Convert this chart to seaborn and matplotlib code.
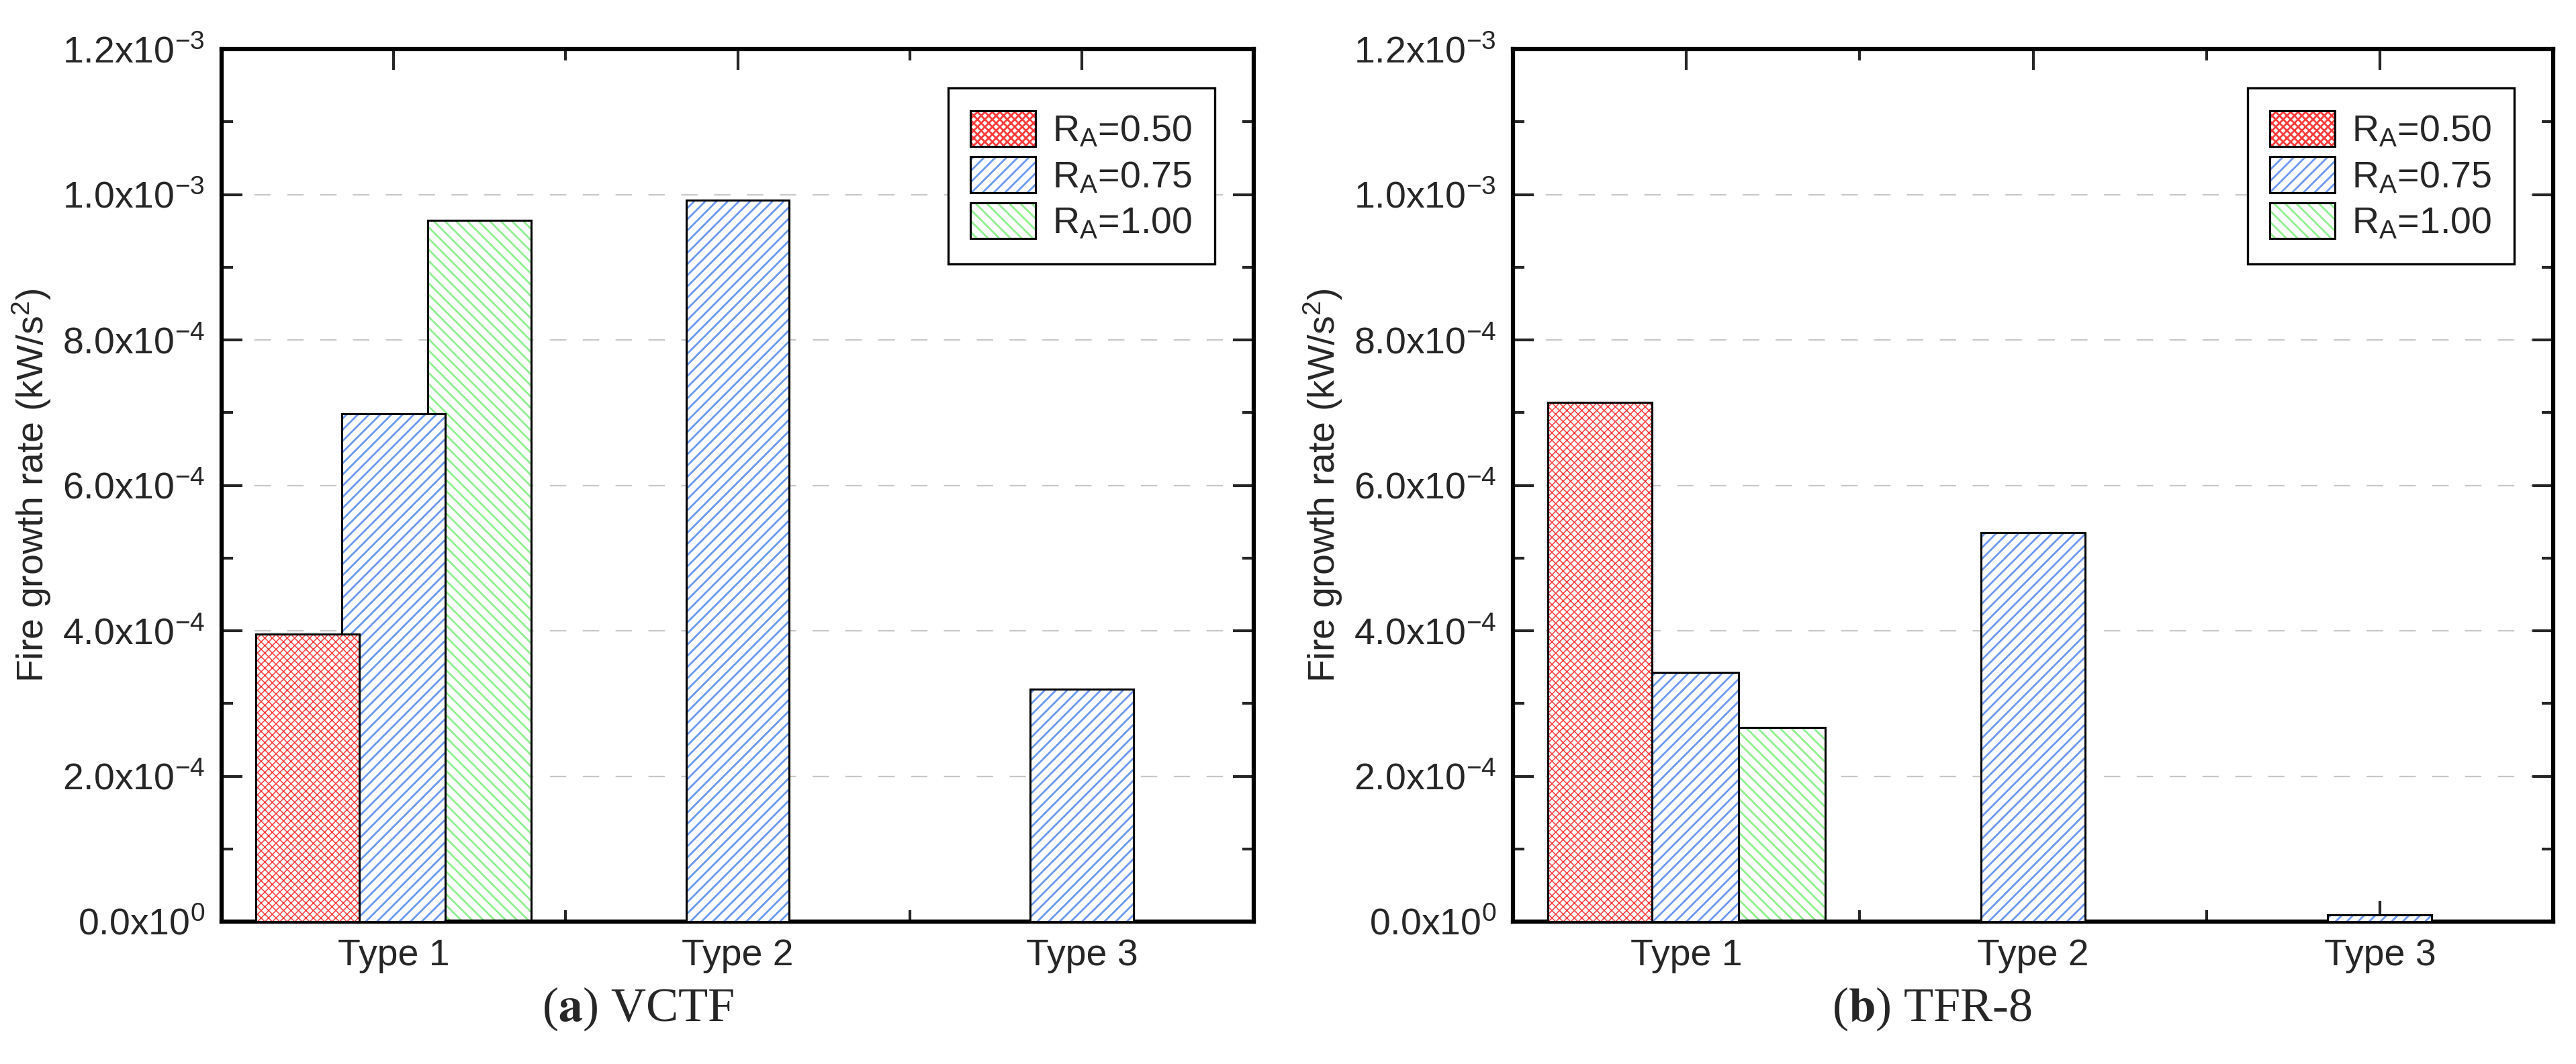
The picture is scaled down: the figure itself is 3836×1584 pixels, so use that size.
import numpy as np
import pandas as pd
import matplotlib
matplotlib.use("Agg")
import matplotlib.pyplot as plt
import seaborn as sns
from matplotlib.patches import Patch
from matplotlib.legend_handler import HandlerTuple
from matplotlib.ticker import FixedLocator

# ──────────────────────────────────────────────────────────────────────────────
# Data
# ──────────────────────────────────────────────────────────────────────────────
categories = ["Type 1", "Type 2", "Type 3"]
ratio_labels = ["R$_{\\mathrm{A}}$=0.50", "R$_{\\mathrm{A}}$=0.75", "R$_{\\mathrm{A}}$=1.00"]

vctf_050 = [3.95e-4, np.nan, np.nan]
vctf_075 = [6.98e-4, 9.92e-4, 3.20e-4]
vctf_100 = [9.64e-4, np.nan, np.nan]

tfr8_050 = [7.14e-4, np.nan, np.nan]
tfr8_075 = [3.43e-4, 5.35e-4, 0.09e-4]
tfr8_100 = [2.67e-4, np.nan, np.nan]

ytick_values = [0.0, 2e-4, 4e-4, 6e-4, 8e-4, 1.0e-3, 1.2e-3]
ytick_labels = ["0.0x10$^{0}$", "2.0x10$^{-4}$", "4.0x10$^{-4}$", "6.0x10$^{-4}$",
                "8.0x10$^{-4}$", "1.0x10$^{-3}$", "1.2x10$^{-3}$"]
ylabel = "Fire growth rate (kW/s$^{2}$)"
captions = ["($\\mathbf{a}$) VCTF", "($\\mathbf{b}$) TFR-8"]

# ──────────────────────────────────────────────────────────────────────────────
# Style
# ──────────────────────────────────────────────────────────────────────────────
sns.set_style("ticks")
plt.rcParams["font.family"] = ["Liberation Sans", "DejaVu Sans"]
plt.rcParams["mathtext.fontset"] = "custom"
plt.rcParams["mathtext.rm"] = "Liberation Sans"
plt.rcParams["mathtext.it"] = "Liberation Sans:italic"
plt.rcParams["mathtext.bf"] = "Liberation Sans:bold"
plt.rcParams["hatch.linewidth"] = 2.0

hatch_colors = ["#ff3a3a", "#6a98f0", "#8ef08e"]
hatches = ["xxx", "//", "\\\\"]
hatch_lws = [1.1, 2.0, 2.0]
zorders = [4, 3, 2]          # red over blue over green
bar_width = 0.30
FS = 40


def to_long(v050, v075, v100):
    df = pd.DataFrame({"Type": categories,
                       ratio_labels[0]: v050,
                       ratio_labels[1]: v075,
                       ratio_labels[2]: v100})
    df = df.melt(id_vars="Type", var_name="Ratio", value_name="Rate")
    return df.dropna()


def resize(bar, w):
    cx = bar.get_x() + bar.get_width() / 2
    bar.set_width(w)
    bar.set_x(cx - w / 2)


def style_hatch(p, col, h, lw):
    p.set_facecolor("white")
    p.set_edgecolor(col)
    p.set_linewidth(0)
    p.set_hatch(h)
    if hasattr(p, "set_hatch_linewidth"):
        p.set_hatch_linewidth(lw)


def draw_panel(ax, df):
    # hatched fill layer
    sns.barplot(data=df, x="Type", y="Rate", hue="Ratio", order=categories,
                hue_order=ratio_labels, dodge=True, width=0.75, errorbar=None,
                palette=["white"] * 3, saturation=1, legend=False, ax=ax)
    n = len(ax.containers)
    for cont, col, h, lw, z in zip(ax.containers, hatch_colors, hatches, hatch_lws, zorders):
        for bar in cont:
            resize(bar, bar_width)
            style_hatch(bar, col, h, lw)
            bar.set_zorder(z)
    # black outline layer
    sns.barplot(data=df, x="Type", y="Rate", hue="Ratio", order=categories,
                hue_order=ratio_labels, dodge=True, width=0.75, errorbar=None,
                fill=False, legend=False, ax=ax)
    for cont, z in zip(ax.containers[n:], zorders):
        for bar in cont:
            resize(bar, bar_width)
            bar.set_facecolor("none")
            bar.set_edgecolor("black")
            bar.set_linewidth(2.2)
            bar.set_zorder(z + 0.5)

    ax.set_xlim(-0.5, 2.5)
    ax.set_ylim(0, 1.2e-3)
    ax.yaxis.set_major_locator(FixedLocator(ytick_values))
    ax.set_yticklabels(ytick_labels)
    ax.yaxis.set_minor_locator(FixedLocator([1e-4, 3e-4, 5e-4, 7e-4, 9e-4, 1.1e-3]))
    ax.xaxis.set_minor_locator(FixedLocator([0.5, 1.5]))
    ax.set_xlabel("")
    ax.set_ylabel(ylabel, fontsize=FS, labelpad=10)

    ax.tick_params(which="major", direction="in", length=22, width=3,
                   top=True, right=True, labelsize=FS, pad=18)
    ax.tick_params(which="minor", direction="in", length=12, width=3,
                   top=True, right=True)
    ax.tick_params(axis="x", which="major", pad=18)
    for sp in ax.spines.values():
        sp.set_visible(True)
        sp.set_linewidth(4.5)
        sp.set_color("black")

    ax.set_axisbelow(True)
    ax.yaxis.grid(True, linestyle=(0, (11, 11)), color="#c8c8c8", linewidth=1.6)
    ax.xaxis.grid(False)

    handles = []
    for col, h, lw in zip(hatch_colors, hatches, hatch_lws):
        hp = Patch()
        style_hatch(hp, col, h, lw)
        op = Patch(facecolor="none", edgecolor="black", linewidth=2.2)
        handles.append((hp, op))
    leg = ax.legend(handles=handles, labels=ratio_labels,
                    handler_map={tuple: HandlerTuple(ndivide=1, pad=0)},
                    loc="upper right", fontsize=FS, frameon=True, fancybox=False,
                    edgecolor="black", framealpha=1, handlelength=1.75,
                    handleheight=1.1, labelspacing=0.2, handletextpad=0.45,
                    borderpad=0.6, borderaxespad=1.05)
    leg.get_frame().set_linewidth(2.4)


# ──────────────────────────────────────────────────────────────────────────────
# Figure
# ──────────────────────────────────────────────────────────────────────────────
W, H = 3837, 1584
fig = plt.figure(figsize=(W / 100, H / 100), dpi=100)
bottom, top = 1372, 73
ax1 = fig.add_axes([330 / W, 1 - bottom / H, (1867 - 330) / W, (bottom - top) / H])
ax2 = fig.add_axes([2253 / W, 1 - bottom / H, (3802 - 2253) / W, (bottom - top) / H])

draw_panel(ax1, to_long(vctf_050, vctf_075, vctf_100))
draw_panel(ax2, to_long(tfr8_050, tfr8_075, tfr8_100))

for xc, cap in zip([950 / W, 2877 / W], captions):
    fig.text(xc, 1 - 1502 / H, cap, ha="center", va="center", fontsize=52,
             family="Liberation Serif", math_fontfamily="stix")

fig.savefig("out.png", dpi=100, facecolor="white")
